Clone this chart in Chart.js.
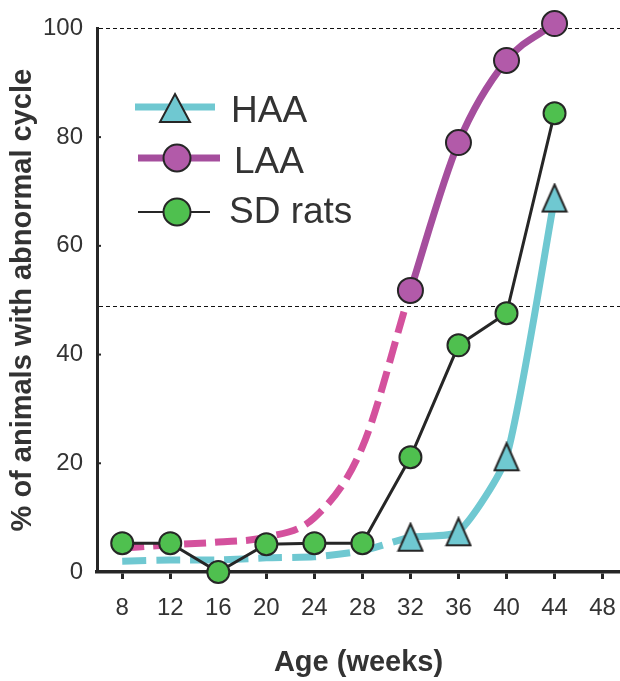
<!DOCTYPE html>
<html>
<head>
<meta charset="utf-8">
<title>Abnormal cycle by age</title>
<script src="https://cdn.jsdelivr.net/npm/chart.js@4.4.1/dist/chart.umd.min.js"></script>
<style>
  html, body { margin: 0; padding: 0; background: #fff; }
  canvas { display: block; }
</style>
</head>
<body>
<canvas id="cycle-chart" width="620" height="681"></canvas>
<script>
(function () {
  // age at each observation (weeks)
  const WEEKS = [8, 12, 16, 20, 24, 28, 32, 36, 40, 44];
  const X_TICKS = [8, 12, 16, 20, 24, 28, 32, 36, 40, 44, 48];
  const Y_TICKS = [0, 20, 40, 60, 80, 100];

  // % of animals with abnormal cycle
  const HAA = [2.0, 2.2, 2.2, 2.6, 2.8, 3.9, 6.4, 7.4, 21.2, 68.8];
  const LAA = [4.4, 5.0, 5.5, 6.4, 10, 23, 51.8, 79.0, 94.1, 100.9];
  const SD_RATS = [5.3, 5.3, 0, 5.1, 5.3, 5.3, 21.1, 41.7, 47.6, 84.4];

  // dashed guide levels
  const REF_LEVELS = [100, 49];

  // HAA / LAA are dashed, without markers, up to this week
  const DASHED_UNTIL = 32;

  const CYAN = "#6fc8d1";
  const PURPLE = "#a54e9d";
  const PINK = "#d4519d";
  const PURPLE_FILL = "#b25aa9";
  const GREEN = "#4fc04f";
  const INK = "#262626";
  const TEXT = "#333333";
  const FONT = '"Liberation Sans", Arial, sans-serif';

  Chart.defaults.font.family = FONT;
  Chart.defaults.color = TEXT;

  function triangle(ctx, cx, cy, w, h) {
    ctx.beginPath();
    ctx.moveTo(cx, cy - h / 2);
    ctx.lineTo(cx + w / 2, cy + h / 2);
    ctx.lineTo(cx - w / 2, cy + h / 2);
    ctx.closePath();
    ctx.fillStyle = CYAN;
    ctx.fill();
    ctx.lineWidth = 2;
    ctx.strokeStyle = INK;
    ctx.stroke();
  }

  // triangle marker used as a point style
  const triMarker = document.createElement("canvas");
  triMarker.width = 28;
  triMarker.height = 31;
  triangle(triMarker.getContext("2d"), 14, 15.5, 24, 27);

  const isDashed = (idx) => WEEKS[idx] <= DASHED_UNTIL;
  const hasMarker = (idx) => WEEKS[idx] >= DASHED_UNTIL;

  // dashed guide lines plus the short inward ticks on the y axis
  const refLines = {
    id: "refLines",
    beforeDatasetsDraw(chart) {
      const { ctx, chartArea, scales } = chart;
      ctx.save();
      ctx.strokeStyle = "#111";
      ctx.lineWidth = 1;
      ctx.setLineDash([4, 3]);
      REF_LEVELS.forEach((level) => {
        const y = Math.round(scales.y.getPixelForValue(level)) + 0.5;
        ctx.beginPath();
        ctx.moveTo(chartArea.left + 2, y);
        ctx.lineTo(chartArea.right, y);
        ctx.stroke();
      });
      ctx.setLineDash([]);
      ctx.strokeStyle = INK;
      ctx.lineWidth = 2;
      Y_TICKS.slice(1, -1).forEach((v) => {
        const y = scales.y.getPixelForValue(v);
        ctx.beginPath();
        ctx.moveTo(chartArea.left, y);
        ctx.lineTo(chartArea.left + 4, y);
        ctx.stroke();
      });
      ctx.restore();
    },
  };

  const legendBox = {
    id: "legendBox",
    afterDatasetsDraw(chart) {
      const { ctx } = chart;
      const rows = [
        { label: "HAA", y: 107, base: 122, x0: 135, x1: 215, color: CYAN, width: 7, marker: "tri", tx: 231 },
        { label: "LAA", y: 158, base: 173, x0: 138, x1: 220, color: PURPLE, width: 7, fill: PURPLE_FILL, tx: 234 },
        { label: "SD rats", y: 212, base: 223, x0: 138, x1: 210, color: INK, width: 2, fill: GREEN, tx: 229 },
      ];
      ctx.save();
      rows.forEach((row) => {
        ctx.beginPath();
        ctx.strokeStyle = row.color;
        ctx.lineWidth = row.width;
        ctx.moveTo(row.x0, row.y);
        ctx.lineTo(row.x1, row.y);
        ctx.stroke();
        if (row.marker === "tri") {
          triangle(ctx, 175, row.y + 1, 30, 28);
        } else {
          ctx.beginPath();
          ctx.arc(177, row.y, 13.5, 0, Math.PI * 2);
          ctx.fillStyle = row.fill;
          ctx.fill();
          ctx.lineWidth = 2;
          ctx.strokeStyle = INK;
          ctx.stroke();
        }
        ctx.fillStyle = TEXT;
        ctx.font = "37px " + FONT;
        ctx.textBaseline = "alphabetic";
        ctx.textAlign = "left";
        ctx.fillText(row.label, row.tx, row.base);
      });
      ctx.restore();
    },
  };

  const toPoints = (values) => WEEKS.map((w, i) => ({ x: w, y: values[i] }));

  new Chart(document.getElementById("cycle-chart"), {
    type: "line",
    data: {
      datasets: [
        {
          label: "SD rats",
          data: toPoints(SD_RATS),
          borderColor: INK,
          borderWidth: 3,
          tension: 0,
          pointRadius: 11,
          pointBackgroundColor: GREEN,
          pointBorderColor: INK,
          pointBorderWidth: 2,
          clip: false,
        },
        {
          label: "LAA",
          data: toPoints(LAA),
          borderColor: PURPLE,
          borderWidth: 7,
          cubicInterpolationMode: "monotone",
          segment: {
            borderDash: (c) => (isDashed(c.p1DataIndex) ? [22, 9] : undefined),
            borderColor: (c) => (isDashed(c.p1DataIndex) ? PINK : undefined),
          },
          pointRadius: (c) => (hasMarker(c.dataIndex) ? 12.5 : 0),
          pointBackgroundColor: PURPLE_FILL,
          pointBorderColor: INK,
          pointBorderWidth: 2,
          clip: false,
        },
        {
          label: "HAA",
          data: toPoints(HAA),
          borderColor: CYAN,
          borderWidth: 7,
          tension: 0.2,
          segment: {
            borderDash: (c) => (isDashed(c.p1DataIndex) ? [24, 10] : undefined),
          },
          pointStyle: triMarker,
          pointRadius: (c) => (hasMarker(c.dataIndex) ? 13 : 0),
          clip: false,
        },
      ],
    },
    options: {
      responsive: false,
      animation: false,
      devicePixelRatio: 1,
      layout: {
        autoPadding: false,
        padding: { top: 28, right: 0, left: 0, bottom: 0 },
      },
      plugins: {
        legend: { display: false },
        tooltip: { enabled: false },
      },
      scales: {
        x: {
          type: "linear",
          min: 5.9,
          max: 49.45,
          afterBuildTicks: (scale) => {
            scale.ticks = X_TICKS.map((v) => ({ value: v }));
          },
          afterFit: (scale) => {
            scale.height = 109;
            scale.paddingLeft = 0;
            scale.paddingRight = 0;
          },
          grid: {
            drawOnChartArea: false,
            drawTicks: true,
            tickLength: 7,
            color: INK,
            lineWidth: 3,
          },
          border: { display: true, color: INK, width: 3.5 },
          ticks: {
            padding: 15,
            color: TEXT,
            font: { size: 24 },
            maxRotation: 0,
          },
          title: {
            display: true,
            text: "Age (weeks)",
            color: TEXT,
            font: { size: 29, weight: "bold" },
            padding: { top: 0, bottom: 1 },
          },
        },
        y: {
          min: 0,
          max: 100,
          afterBuildTicks: (scale) => {
            scale.ticks = Y_TICKS.map((v) => ({ value: v }));
          },
          afterFit: (scale) => {
            scale.width = 97;
          },
          grid: { drawOnChartArea: false, drawTicks: false },
          border: { display: true, color: INK, width: 3 },
          ticks: {
            padding: 14,
            color: TEXT,
            font: { size: 24 },
          },
          title: {
            display: true,
            text: "% of animals with abnormal cycle",
            color: TEXT,
            font: { size: 29, weight: "bold" },
            padding: { top: 6, bottom: 0 },
          },
        },
      },
    },
    plugins: [refLines, legendBox],
  });
})();
</script>
</body>
</html>
